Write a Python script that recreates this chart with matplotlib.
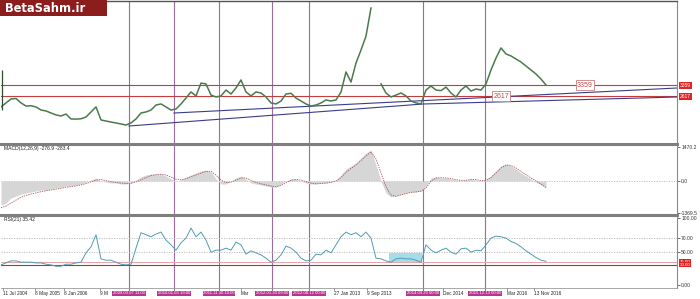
import matplotlib.pyplot as plt
import matplotlib.transforms as mtransforms
from matplotlib.patches import Rectangle
import numpy as np

plt.rcParams["font.family"] = ["Liberation Sans", "DejaVu Sans"]

# one value every STEP bars
STEP = 5
price = [1880, 2150, 2415, 2450, 2150, 1940, 1960, 1880, 1670, 1610,
         1470, 1340, 1270, 1400, 1070, 1060, 1080, 1200, 1540, 1880,
         1000, 930, 860, 800, 730, 660, 800, 1070, 1470, 1540,
         1670, 2010, 2080, 1880, 1670, 1740, 2080, 2480, 2890, 2620,
         3490, 3430, 2680, 2550, 2620, 3020, 2750, 3160, 3700, 2890,
         2620, 2890, 2820, 2550, 2150, 2080, 2280, 2750, 2800, 2480,
         2280, 2080, 1940, 2010, 2150, 2350, 2280, 2350, 2890, 4240,
         3560, 4840, 5720, 6660, 8550, np.nan, 3430, 2820, 2550, 2680,
         2820, 2620, 2280, 2150, 2080, 3020, 3290, 3020, 2980, 3220,
         2820, 2550, 3020, 3290, 2950, 3090, 3020, 3430, 4370, 5180,
         5860, 5450, 5320, 5110, 4910, 4640, 4370, 4100, 3760, 3360]
first_high, first_low = 4370, 1700

macd_main = [-1030, -950, -730, -645, -560, -515, -470, -430, -390, -390,
             -345, -300, -260, -215, -215, -170, -130, -45, 45, 130,
             0, -45, -85, -85, -130, -130, -85, 45, 170, 260,
             300, 300, 300, 215, 85, 0, 45, 170, 260, 345,
             430, 475, 390, 85, -130, -130, 0, 130, 215, 85,
             -85, -130, -170, -215, -260, -260, -130, 0, 85, 85,
             0, -85, -130, -130, -85, -85, -45, 45, 260, 515,
             645, 775, 990, 1205, 1335, 690, 0, -515, -690, -645,
             -560, -515, -470, -470, -430, -215, 130, 170, 130, 130,
             85, 45, 0, 45, 85, 45, 0, 45, 215, 430,
             645, 730, 645, 515, 345, 215, 85, -45, -170, -276.9]
macd_signal = [-1150, -1080, -950, -820, -700, -620, -560, -510, -460, -420,
               -390, -350, -310, -270, -240, -210, -170, -110, -40, 40,
               60, 20, -30, -60, -90, -110, -100, -40, 50, 150,
               230, 270, 290, 260, 170, 80, 50, 100, 180, 260,
               340, 410, 420, 250, 40, -70, -50, 40, 130, 130,
               30, -60, -120, -170, -220, -250, -190, -80, 30, 70,
               40, -30, -90, -120, -110, -90, -60, 0, 150, 370,
               540, 690, 880, 1080, 1250, 950, 350, -250, -600, -660,
               -600, -540, -490, -470, -440, -300, 0, 130, 140, 130,
               100, 60, 20, 30, 70, 60, 20, 30, 150, 350,
               560, 690, 670, 560, 410, 270, 130, 0, -130, -283.4]

rsi = [30, 33, 36, 36, 34, 34, 34, 33, 33, 31,
       30, 28, 28, 31, 31, 33, 34, 48, 57, 75,
       39, 37, 37, 34, 31, 30, 31, 55, 78, 75,
       72, 76, 79, 67, 60, 52, 63, 70, 85, 72,
       79, 67, 49, 52, 52, 55, 52, 64, 60, 46,
       51, 48, 45, 40, 34, 37, 45, 58, 55, 49,
       40, 36, 37, 46, 45, 52, 48, 60, 72, 79,
       75, 78, 72, 79, 70, 40, 39, 36, 34, 39,
       40, 39, 39, 37, 34, 60, 52, 48, 52, 55,
       49, 46, 54, 55, 49, 52, 51, 60, 70, 73,
       72, 70, 65, 62, 57, 51, 46, 41, 37, 35.42]

level_hi = 3359
level_lo = 2617
trend_low_bars = [128, 422, 676]
trend_low_vals = [594, 2077, 2550]
trend_up_bars = [173, 676]
trend_up_vals = [1470, 3157]

event_bars = [128, 173, 218, 271, 308, 422, 484]
event_labels = ["2009.03.07 11:00", "2010.01.03 19:00", "2011.11.30 10:00",
                "2012.01.30 09:00", "2012.08.12 00:00", "2014.09.20 00:00",
                "2015.12.13 00:00"]
# only the part of each date label that is not hidden under a line tag
date_bars = [2, 34, 63, 99, 240, 333, 366, 442, 506, 533]
date_labels = ["11 Jul 2004", "8 May 2005", "8 Jan 2006", "9 M", "Mar",
               "27 Jan 2013", "9 Sep 2013", "Dec 2014", "Mar 2016", "13 Nov 2016"]

rsi_zone = (388, 421, 34, 48)   # bar from, bar to, rsi low, rsi high
rsi_levels = [35, 30]

bars = np.arange(len(price)) * STEP

W, H = 700, 299
fig = plt.figure(figsize=(W / 100, H / 100), dpi=100)
ax_p = fig.add_axes([1 / W, 1 - 143 / H, 676 / W, 142 / H])
ax_m = fig.add_axes([1 / W, 1 - 214 / H, 676 / W, 70 / H])
ax_r = fig.add_axes([1 / W, 1 - 288 / H, 676 / W, 73 / H])

grid_col = "#b8b8b8"
vline_col = "#9c6c9e"
red = "#c43c3c"
small = 3.6

for ax in (ax_p, ax_m, ax_r):
    ax.set_xlim(0, 676)
    ax.set_xticks([])
    for side in ("left", "bottom"):
        ax.spines[side].set_visible(False)
    ax.spines["right"].set_color("#8a8a8a")
    ax.spines["right"].set_linewidth(0.8)
    for b in event_bars:
        ax.axvline(b, color=vline_col, lw=0.8, zorder=1)

ax_p.spines["top"].set_color("#555555")
ax_p.spines["top"].set_linewidth(1)
for ax in (ax_m, ax_r):
    ax.spines["top"].set_color("#7f7f7f")
    ax.spines["top"].set_linewidth(2.2)
ax_r.spines["bottom"].set_visible(True)
ax_r.spines["bottom"].set_color("#9a9a9a")
ax_r.spines["bottom"].set_linewidth(0.6)

# price panel
ax_p.set_ylim(-553, 9025)
ax_p.set_yticks([])
ax_p.plot(bars, price, color="#4b7a4d", lw=1.1, zorder=3)
ax_p.vlines(bars[0] + 1, first_low, first_high, color="#2f4f2f", lw=0.9, zorder=3)
ax_p.axhline(level_hi, color=red, lw=0.8, zorder=2)
ax_p.axhline(level_lo, color=red, lw=0.8, zorder=2)
ax_p.plot(trend_low_bars, trend_low_vals, color="#3c3c8c", lw=0.8, zorder=2)
ax_p.plot(trend_up_bars, trend_up_vals, color="#3c3c8c", lw=0.8, zorder=2)
for b, v in ((584, level_hi), (500, level_lo)):
    ax_p.text(b, v, str(v), fontsize=5, color="#c04848", ha="center", va="center", zorder=4,
              bbox=dict(boxstyle="square,pad=0.2", fc="white", ec="#cc8080", lw=0.6))
tr_p = mtransforms.blended_transform_factory(ax_p.transAxes, ax_p.transData)
for v in (level_hi, level_lo):
    ax_p.text(1.004, v, str(v), transform=tr_p, fontsize=small, color="white", ha="left",
              va="center", clip_on=False,
              bbox=dict(boxstyle="square,pad=0.2", fc="#e02424", ec="none"))

# MACD panel
ax_m.set_ylim(-1419, 1591)
ax_m.fill_between(bars, 0, macd_main, color="#d6d6d6", lw=0, zorder=2)
ax_m.plot(bars, macd_signal, color="#a45858", lw=0.6, ls=(0, (1.6, 1.2)), zorder=3)
ax_m.axhline(0, color=grid_col, lw=0.6, ls=(0, (1.5, 1.5)), zorder=1)
ax_m.yaxis.tick_right()
ax_m.set_yticks([1470.2, 0, -1369.5])
ax_m.set_yticklabels(["1470.2", "0.0", "-1369.5"])
ax_m.tick_params(axis="y", labelsize=small, length=2, width=0.5, pad=1, colors="#333333")
ax_m.text(0.004, 1 - 5 / 70, "MACD(12,26,9) -276.9 -283.4", transform=ax_m.transAxes,
          fontsize=small, color="#222222", ha="left", va="center")

# RSI panel
ax_r.set_ylim(-4.5, 104.5)
for lv in (70, 50):
    ax_r.axhline(lv, color=grid_col, lw=0.6, ls=(0, (1.5, 1.5)), zorder=1)
ax_r.axhline(rsi_levels[0], color="#e4a8a8", lw=0.8, zorder=2)
ax_r.axhline(rsi_levels[1], color="#a83838", lw=0.8, zorder=2)
x0, x1, lo, hi = rsi_zone
ax_r.add_patch(Rectangle((x0, lo), x1 - x0, hi - lo, fc="#a6dbe8", ec="none", zorder=1.5))
ax_r.plot(bars, rsi, color="#4f9db4", lw=0.7, zorder=3)
ax_r.yaxis.tick_right()
ax_r.set_yticks([100, 70, 50, 0])
ax_r.set_yticklabels(["100.00", "70.00", "50.00", "0.00"])
ax_r.tick_params(axis="y", labelsize=small, length=2, width=0.5, pad=1, colors="#333333")
ax_r.text(0.004, 1 - 5 / 73, "RSI(21) 35.42", transform=ax_r.transAxes,
          fontsize=small, color="#222222", ha="left", va="center")
tr_r = mtransforms.blended_transform_factory(ax_r.transAxes, ax_r.transData)
for lv in rsi_levels:
    ax_r.text(1.004, lv, f"{lv:.2f}", transform=tr_r, fontsize=3.2, color="white", ha="left",
              va="center", clip_on=False,
              bbox=dict(boxstyle="square,pad=0.12", fc="#e02424", ec="none"))

# time axis
tr_x = mtransforms.blended_transform_factory(ax_r.transData, ax_r.transAxes)
for b, lab in zip(date_bars, date_labels):
    ax_r.plot([b, b], [0, -0.03], transform=tr_x, color="#666666", lw=0.5, clip_on=False)
    ax_r.text(b, -0.075, lab, transform=tr_x, fontsize=3.4, color="#222222",
              ha="left", va="center", clip_on=False, zorder=4)
for b, lab in zip(event_bars, event_labels):
    ax_r.plot([b, b], [0, -0.03], transform=tr_x, color=vline_col, lw=0.8, clip_on=False)
    ax_r.text(b, -0.075, lab, transform=tr_x, fontsize=3.1, color="white",
              ha="center", va="center", clip_on=False, zorder=6,
              bbox=dict(boxstyle="square,pad=0.15", fc="#b8348e", ec="none"))

# logo
fig.patches.append(Rectangle((0, 1 - 16 / H), 107 / W, 16 / H, transform=fig.transFigure,
                             fc="#8c1d1d", ec="none", zorder=5))
fig.text(5 / W, 1 - 8.5 / H, "BetaSahm.ir", fontsize=8.3, fontweight="bold",
         family="DejaVu Sans", color="white", ha="left", va="center", zorder=6)

fig.savefig("out.png", dpi=100)
